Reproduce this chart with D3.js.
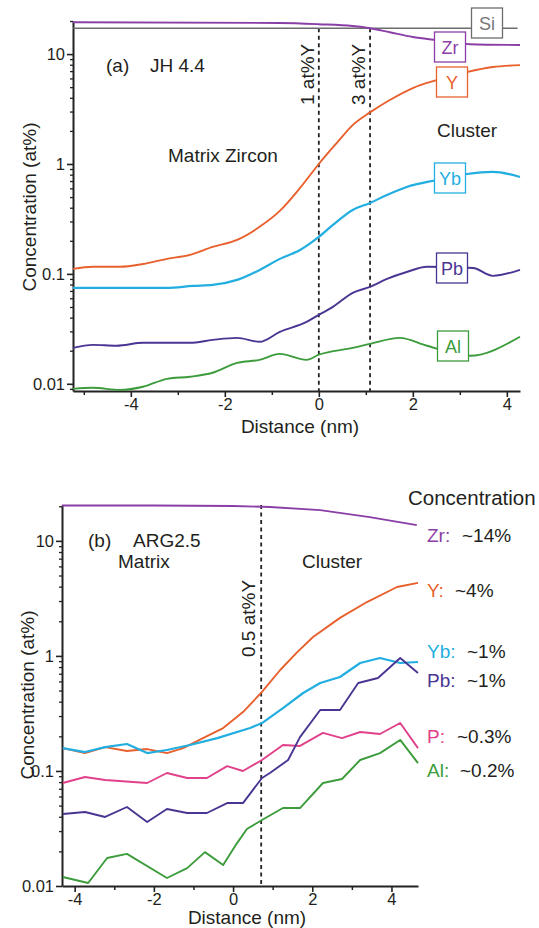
<!DOCTYPE html>
<html><head><meta charset="utf-8">
<script src="https://cdn.jsdelivr.net/npm/d3@7"></script>
<style>
html,body{margin:0;padding:0;background:#fff;}
svg{display:block;font-family:"Liberation Sans",Arial,Helvetica,sans-serif;}
</style></head>
<body>
<svg id="chart" width="539" height="928"></svg>
<script>
// ---------- DATA: panel (a) JH 4.4 ----------
const a_Zr_x = [-5.23,-0.83,0,0.72,1.09,1.51,2.0,2.51,3.21,4.28];
const a_Zr_v = [19.5,19.2,18.7,18.0,17.2,15.8,14.3,13.4,12.3,12.1];
const a_Si_x = [-5.23,4.23];
const a_Si_v = [17.2,17.2];
const a_Y_x  = [-5.23,-4.81,-4.23,-3.74,-3.23,-2.74,-2.26,-1.74,-1.26,-0.83,-0.40,0,0.38,0.72,1.09,1.51,2.0,2.51,3.15,3.70,4.28];
const a_Y_v  = [0.111,0.116,0.116,0.123,0.137,0.149,0.176,0.204,0.268,0.374,0.605,1.0,1.55,2.26,2.95,3.82,4.91,5.8,6.86,7.62,7.94];
const a_Yb_x = [-5.23,-4.81,-3.23,-2.68,-2.26,-1.74,-1.26,-0.83,-0.40,0,0.30,0.72,1.09,1.45,1.87,2.51,3.15,3.70,4.28];
const a_Yb_v = [0.0746,0.0746,0.0746,0.0778,0.0794,0.0882,0.1087,0.137,0.165,0.217,0.279,0.382,0.442,0.523,0.618,0.715,0.811,0.846,0.762];
const a_Pb_x = [-5.23,-4.81,-4.30,-3.74,-2.74,-2.26,-1.74,-1.26,-0.83,-0.26,0,0.30,0.72,1.09,1.45,1.87,2.30,3.28,3.70,4.28];
const a_Pb_v = [0.0212,0.0226,0.0222,0.0236,0.0236,0.0251,0.0262,0.0241,0.0297,0.0366,0.0424,0.0501,0.0672,0.0762,0.090,0.104,0.116,0.113,0.096,0.109];
const a_Al_x = [-5.23,-4.81,-4.23,-3.74,-3.23,-2.74,-2.26,-1.74,-1.26,-0.83,-0.26,0,0.72,1.09,1.72,2.30,3.21,4.28];
const a_Al_v = [0.0090,0.0092,0.0088,0.0094,0.0111,0.0116,0.0126,0.0155,0.0165,0.0187,0.0165,0.0184,0.0212,0.0231,0.0262,0.0222,0.018,0.0268];
const a_markers = [0, 1.09];
const a_markerLabels = ["1 at%Y","3 at%Y"];

// ---------- DATA: panel (b) ARG2.5 ----------
const b_Zr_x = [-4.32,-2,0,0.93,2.2,3.45,4.64];
const b_Zr_v = [20.3,20.3,20.1,19.7,18.5,16.1,13.7];
const b_Y_x  = [-4.30,-3.74,-3.23,-2.68,-2.17,-1.67,-1.26,-0.76,-0.25,0.25,0.73,1.19,1.62,2.02,2.70,3.38,4.14,4.67];
const b_Y_v  = [0.158,0.143,0.161,0.149,0.155,0.143,0.158,0.193,0.236,0.325,0.486,0.754,1.08,1.46,2.14,2.94,3.97,4.31];
const b_Yb_x = [-4.30,-3.74,-3.23,-2.68,-2.17,-1.67,-1.09,-0.40,0.43,0.73,1.26,1.77,2.20,2.70,3.21,3.71,4.22,4.67];
const b_Yb_v = [0.158,0.146,0.161,0.1715,0.143,0.152,0.168,0.193,0.236,0.261,0.352,0.476,0.581,0.656,0.868,0.959,0.868,0.885];
const b_Pb_x = [-4.30,-3.74,-3.23,-2.68,-2.17,-1.67,-1.16,-0.66,-0.15,0.25,0.73,0.93,1.39,1.69,2.20,2.70,3.16,3.66,4.22,4.67];
const b_Pb_v = [0.0423,0.044,0.0398,0.0486,0.036,0.0467,0.0431,0.0431,0.0526,0.0526,0.0869,0.096,0.1245,0.197,0.339,0.339,0.581,0.643,0.959,0.710];
const b_P_x  = [-4.30,-3.74,-3.23,-2.17,-1.67,-1.16,-0.66,-0.15,0.25,0.73,1.26,1.69,2.27,2.75,3.21,3.71,4.22,4.67];
const b_P_v  = [0.0786,0.0886,0.0834,0.0786,0.096,0.0869,0.0869,0.110,0.0999,0.1245,0.168,0.165,0.214,0.193,0.218,0.2095,0.261,0.158];
const b_Al_x = [-4.30,-3.66,-3.18,-2.68,-1.67,-1.16,-0.71,-0.25,0.10,0.35,0.73,1.26,1.69,2.27,2.75,3.21,3.71,4.22,4.67];
const b_Al_v = [0.01197,0.01062,0.0175,0.0190,0.01174,0.0143,0.0197,0.0152,0.0236,0.0313,0.0375,0.0476,0.0476,0.0786,0.0851,0.1245,0.143,0.186,0.117];
const b_markers = [0.71];
const b_markerLabels = ["0.5 at%Y"];
const b_endNames = ["Zr:","Y:","Yb:","Pb:","P:","Al:"];
const b_endConc  = ["~14%","~4%","~1%","~1%","~0.3%","~0.2%"];

// ---------- ticks ----------
const xTicks = [-4,-2,0,2,4];
const xTickLabels = ["-4","-2","0","2","4"];
const xMinorA = [-5,-3,-1,1,3];
const xMinorB = [-3,-1,1,3];
const yTicks = [0.01,0.1,1,10];
const yTickLabels = ["0.01","0.1","1","10"];

// ---------- styles ----------
const C = {Zr:"#8a3fa6", Si:"#6d6d6d", Y:"#e8602c", Yb:"#22aee0", Pb:"#4a3592", Al:"#3c9c3c", P:"#e0418a"};
const FONT = 19, TICKF = 16.5, TXT = "#231f20";

const svg = d3.select("#chart");
const zip = (xs, vs) => xs.map((x,i)=>({x, v:vs[i]}));

function panel(cfg){
  const g = svg.append("g");
  const x = d3.scaleLinear().domain(cfg.xDom).range(cfg.xRange);
  const y = d3.scaleLog().domain(cfg.yDom).range(cfg.yRange);
  // minor y ticks
  const minors = [];
  [0.001,0.01,0.1,1,10].forEach(d=>{ for(let k=2;k<=9;k++){ const v=d*k; if(v>=cfg.yDom[0]&&v<=cfg.yDom[1]) minors.push(v);} });
  const yMin = d3.axisLeft(y).tickValues(minors).tickSize(3).tickFormat("").tickSizeOuter(0);
  const gyMin = g.append("g").attr("transform",`translate(${cfg.xRange[0]},0)`).call(yMin);
  gyMin.select(".domain").remove();
  gyMin.selectAll("line").attr("stroke","#222").attr("stroke-width",1.3);
  const yAx = d3.axisLeft(y).tickValues(yTicks).tickSize(6).tickSizeOuter(0).tickPadding(2)
    .tickFormat((d,i)=>yTickLabels[i]);
  const gy = g.append("g").attr("transform",`translate(${cfg.xRange[0]},0)`).call(yAx);
  gy.select(".domain").attr("stroke","#222").attr("stroke-width",2);
  gy.selectAll("line").attr("stroke","#222").attr("stroke-width",1.6);
  gy.selectAll("text").attr("font-size",TICKF).attr("fill",TXT).attr("font-family","Liberation Sans, Arial, sans-serif");
  // x axis
  const xMin = d3.axisBottom(x).tickValues(cfg.xMinor).tickSize(4).tickFormat("").tickSizeOuter(0);
  const gxMin = g.append("g").attr("transform",`translate(0,${cfg.yRange[0]})`).call(xMin);
  gxMin.select(".domain").remove();
  gxMin.selectAll("line").attr("stroke","#222").attr("stroke-width",1.5);
  const xAx = d3.axisBottom(x).tickValues(xTicks).tickSize(6).tickSizeOuter(0).tickPadding(1)
    .tickFormat((d,i)=>xTickLabels[i]);
  const gx = g.append("g").attr("transform",`translate(0,${cfg.yRange[0]})`).call(xAx);
  gx.select(".domain").attr("stroke","#222").attr("stroke-width",2);
  gx.selectAll("line").attr("stroke","#222").attr("stroke-width",1.6);
  gx.selectAll("text").attr("font-size",TICKF).attr("fill",TXT).attr("font-family","Liberation Sans, Arial, sans-serif");

  // markers (dashed)
  cfg.markers.forEach((m,i)=>{
    g.append("line").attr("x1",x(m)).attr("x2",x(m)).attr("y1",cfg.markerTop(y)).attr("y2",cfg.yRange[0])
      .attr("stroke","#222").attr("stroke-width",1.8).attr("stroke-dasharray","4,3.5");
    g.append("text").attr("transform",`translate(${x(m)+cfg.markerDx},${cfg.markerY}) rotate(-90)`)
      .attr("font-size",FONT).attr("fill",TXT).text(cfg.markerLabels[i]);
  });

  // series
  const line = d3.line().x(d=>x(d.x)).y(d=>y(d.v)).curve(cfg.curve);
  cfg.series.forEach(s=>{
    g.append("path").datum(zip(s.x,s.v)).attr("d",line).attr("fill","none")
      .attr("stroke",s.color).attr("stroke-width",s.w||1.9).attr("stroke-linejoin","round");
  });
  return {g,x,y};
}

// ---------- panel (a) ----------
const A = panel({
  xDom:[-5.23,4.28], xRange:[73,520], yDom:[0.0086,20], yRange:[391,21],
  xMinor:xMinorA, curve:d3.curveMonotoneX,
  markers:a_markers, markerLabels:a_markerLabels, markerTop:y=>y(17.2), markerDx:-5, markerY:105,
  series:[
    {x:a_Si_x,v:a_Si_v,color:C.Si,w:1.6},
    {x:a_Zr_x,v:a_Zr_v,color:C.Zr},
    {x:a_Y_x,v:a_Y_v,color:C.Y},
    {x:a_Yb_x,v:a_Yb_v,color:C.Yb,w:2.2},
    {x:a_Pb_x,v:a_Pb_v,color:C.Pb},
    {x:a_Al_x,v:a_Al_v,color:C.Al}
  ]
});
// boxed labels in (a)
const aBoxes = [
  {t:"Si", c:C.Si, cx:487, cy:23, tc:"#777"},
  {t:"Zr", c:C.Zr, cx:450, cy:47},
  {t:"Y",  c:C.Y,  cx:452, cy:82},
  {t:"Yb", c:C.Yb, cx:450, cy:178},
  {t:"Pb", c:C.Pb, cx:452, cy:268},
  {t:"Al", c:C.Al, cx:453, cy:346}
];
aBoxes.forEach(b=>{
  A.g.append("rect").attr("x",b.cx-15.5).attr("y",b.cy-15).attr("width",31).attr("height",30)
    .attr("fill","#fff").attr("stroke",b.c).attr("stroke-width",1.3);
  A.g.append("text").attr("x",b.cx).attr("y",b.cy+6.5).attr("text-anchor","middle")
    .attr("font-size",18).attr("fill",b.tc||b.c).text(b.t);
});
const at = (x,y,t,o={})=>{ const e=svg.append("text").attr("x",x).attr("y",y).attr("font-size",o.fs||FONT).attr("fill",o.c||TXT).text(t); if(o.anchor) e.attr("text-anchor",o.anchor); return e; };
at(106,72,"(a)"); at(150,72,"JH 4.4");
at(168,162,"Matrix Zircon");
at(437,137,"Cluster");
at(300,433,"Distance  (nm)",{anchor:"middle"});
svg.append("text").attr("transform","translate(36,207) rotate(-90)").attr("text-anchor","middle")
  .attr("font-size",FONT).attr("fill",TXT).text("Concentration  (at%)");

// ---------- panel (b) ----------
const B = panel({
  xDom:[-4.32,4.67], xRange:[62,418], yDom:[0.01,20.5], yRange:[886,505],
  xMinor:xMinorB, curve:d3.curveLinear,
  markers:b_markers, markerLabels:b_markerLabels, markerTop:y=>505, markerDx:-6, markerY:657,
  series:[
    {x:b_Zr_x,v:b_Zr_v,color:C.Zr},
    {x:b_Y_x,v:b_Y_v,color:C.Y},
    {x:b_Yb_x,v:b_Yb_v,color:C.Yb,w:2.2},
    {x:b_P_x,v:b_P_v,color:C.P},
    {x:b_Al_x,v:b_Al_v,color:C.Al},
    {x:b_Pb_x,v:b_Pb_v,color:C.Pb}
  ]
});
at(88,547,"(b)"); at(133,547,"ARG2.5");
at(118,568,"Matrix");
at(302,568,"Cluster");
at(408,505,"Concentration",{fs:20.5});
const endCols = [C.Zr,C.Y,C.Yb,C.Pb,C.P,C.Al];
const endY = [542,597,658,687,743,777];
const endX2 = [462,455,467,467,457,460];
b_endNames.forEach((n,i)=>{
  at(427,endY[i],n,{c:endCols[i]});
  at(endX2[i],endY[i],b_endConc[i]);
});
at(247,924,"Distance  (nm)",{anchor:"middle"});
svg.append("text").attr("transform","translate(34,695) rotate(-90)").attr("text-anchor","middle")
  .attr("font-size",FONT).attr("fill",TXT).text("Concentration  (at%)");
</script>
</body></html>
